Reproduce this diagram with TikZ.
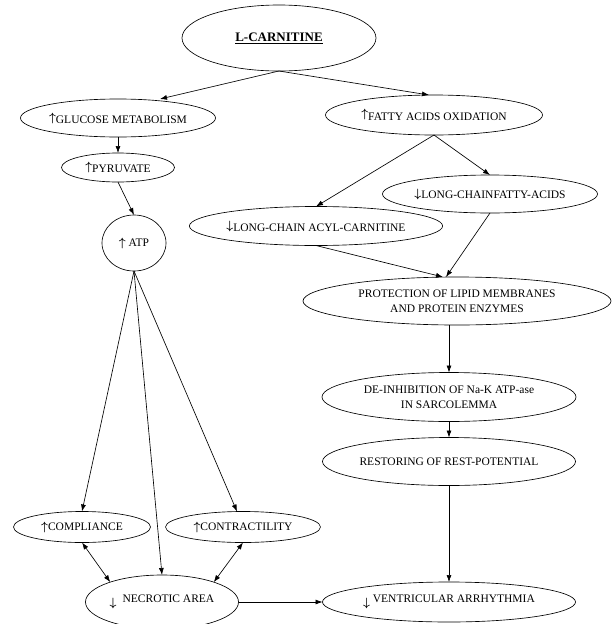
\documentclass[tikz,border=0pt]{standalone}
\usepackage{fontspec}
\setmainfont{Liberation Serif}
\usetikzlibrary{positioning,shapes.geometric,arrows.meta}

\newcommand{\upar}[1][0pt]{\raisebox{#1}{\boldmath$\uparrow$}}
\newcommand{\dnar}[1][0pt]{\raisebox{#1}{\boldmath$\downarrow$}}

\tikzset{
  bubble/.style={draw, ellipse, inner sep=0pt, outer sep=0pt, align=center,
    font=\fontsize{11.5}{15}\selectfont},
}

\begin{document}
\begin{tikzpicture}[x=1pt, y=-1pt, line width=0.65pt,
    >={Latex[length=7pt,width=5pt]}]
    \useasboundingbox (0,0) rectangle (612,624);

    \node[bubble, minimum width=194pt, minimum height=66pt,
      font=\fontsize{13}{15}\selectfont\bfseries] (Carnitine) at (279,38) {%
      \underline{L-CARNITINE}%
    };

    % glucose branch
    \node[bubble, minimum width=193pt, minimum height=38pt] (Glucose) at (118,118) {%
      \upar[2pt]GLUCOSE METABOLISM%
    };
    \node[bubble, minimum width=113pt, minimum height=29pt,
      below=16pt of Glucose] (Pyruvate) {\upar[2pt]PYRUVATE};
    \node[bubble, minimum width=64pt, minimum height=56pt,
      below=33pt of Pyruvate, xshift=16pt] (ATP) {\upar\ ATP};

    % fatty acids branch
    \node[bubble, minimum width=217pt, minimum height=40pt] (FattyOx) at (434,115) {%
      \upar[3pt]FATTY ACIDS OXIDATION%
    };
    \node[bubble, minimum width=215pt, minimum height=38pt] (LongChainFA) at (490,194) {%
      \dnar[1pt]LONG-CHAINFATTY-ACIDS%
    };
    \node[bubble, minimum width=239pt, minimum height=39pt] (AcylCarn) at (316,226) {%
      \dnar[2pt]LONG-CHAIN ACYL-CARNITINE%
    };
    \node[bubble, minimum width=308pt, minimum height=48pt] (Protection) at (457,301) {%
      PROTECTION OF LIPID MEMBRANES\\AND PROTEIN ENZYMES%
    };
    \node[bubble, minimum width=254pt, minimum height=49pt] (DeInhibition) at (449,397) {%
      DE-INHIBITION OF Na-K ATP-ase\\IN SARCOLEMMA%
    };
    \node[bubble, minimum width=247pt, minimum height=48pt,
      below=16pt of DeInhibition] (Restoring) {RESTORING OF REST-POTENTIAL};

    % bottom row
    \node[bubble, minimum width=137pt, minimum height=31pt] (Compliance) at (82,527) {%
      \upar COMPLIANCE%
    };
    \node[bubble, minimum width=155pt, minimum height=31pt] (Contractility) at (243,527) {%
      \upar CONTRACTILITY%
    };
    \node[bubble, minimum width=153pt, minimum height=54pt] (Necrotic) at (162,602) {%
      \dnar[-4pt]\hspace{6pt}NECROTIC AREA%
    };
    \node[bubble, minimum width=253pt, minimum height=40pt] (Arrhythmia) at (449,602) {%
      \dnar[-4pt] VENTRICULAR ARRHYTHMIA%
    };

    \draw[->] (Carnitine.south) -- ([xshift=42pt]Glucose.north);
    \draw[->] (Carnitine.south) -- ([xshift=-5pt]FattyOx.north);
    \draw[->] (Glucose) -- (Pyruvate);
    \draw[->] (Pyruvate.south) -- (ATP.north);
    \draw[->] (FattyOx.south) -- (AcylCarn.north);
    \draw[->] (FattyOx.south) -- (LongChainFA.north);
    \draw[->] (AcylCarn.south) -- ([xshift=-14pt]Protection.north);
    \draw[->] (LongChainFA.south) -- ([xshift=-11pt]Protection.north);
    \draw[->] (Protection.south -| DeInhibition.north) -- (DeInhibition.north);
    \draw[->] (DeInhibition) -- (Restoring);
    \draw[->] (Restoring) -- (Arrhythmia);

    \draw[->] (ATP.south) -- (Compliance.north);
    \draw[->] (ATP.south) -- (Necrotic.north);
    \draw[->] (ATP.south) -- ([xshift=-6pt]Contractility.north);
    \draw[<->] (Compliance.south) -- (Necrotic.159);
    \draw[<->] (Contractility.south) -- (Necrotic.21);
    \draw[->] (Necrotic) -- (Arrhythmia);
  \end{tikzpicture}
\end{document}
